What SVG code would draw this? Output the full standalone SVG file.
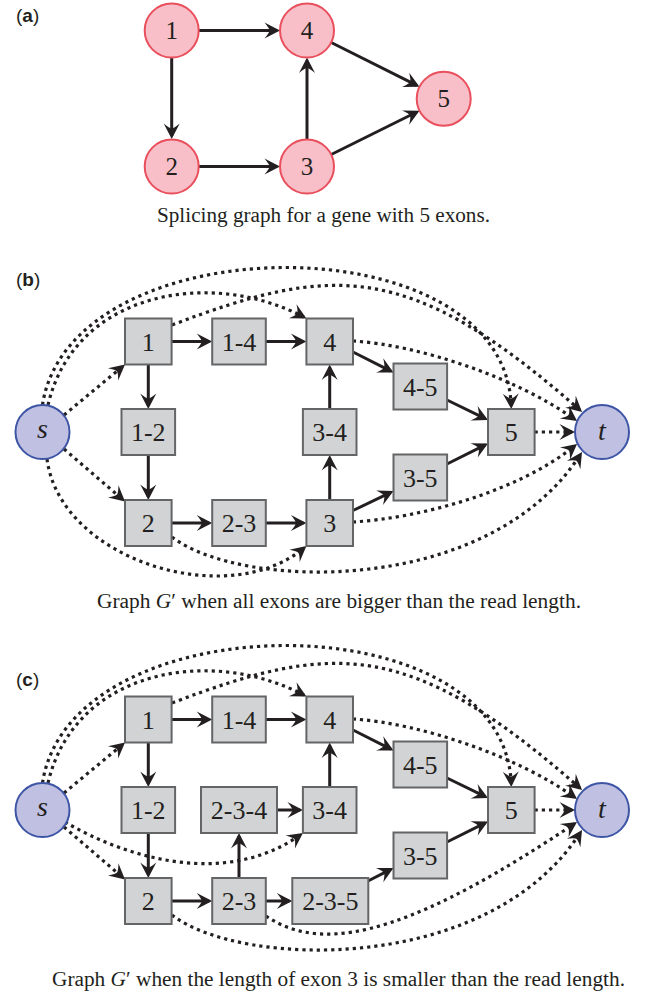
<svg xmlns="http://www.w3.org/2000/svg" width="647" height="994" viewBox="0 0 647 994">
<style>
.pc{fill:#f8bfc8;stroke:#e94f5d;stroke-width:2}
.box{fill:#d1d3d4;stroke:#646567;stroke-width:2}
.st{fill:#c0c1e2;stroke:#3e55a5;stroke-width:2}
.lbl{font-family:'Liberation Serif','DejaVu Serif',serif;font-size:26px;fill:#231f20;text-anchor:middle}
.al{font-family:'Liberation Serif','DejaVu Serif',serif;font-size:25px;fill:#231f20;text-anchor:middle}
.it{font-family:'Liberation Serif','DejaVu Serif',serif;font-size:28px;font-style:italic;fill:#231f20;text-anchor:middle}
.cap{font-family:'Liberation Serif','DejaVu Serif',serif;font-size:20px;fill:#231f20}
.pl{font-family:'Liberation Sans','DejaVu Sans',sans-serif;font-size:19px;fill:#231f20}
.e{fill:none;stroke:#231f20;stroke-width:3;marker-end:url(#ah)}
.d{fill:none;stroke:#231f20;stroke-width:3.2;stroke-dasharray:3.2 4;marker-end:url(#ah)}
</style>
<defs>
<marker id="ah" viewBox="-17 -10 19 20" refX="-3" refY="0" markerWidth="19" markerHeight="20" markerUnits="userSpaceOnUse" orient="auto">
<path d="M0,0 L-15.5,-8 Q-10.5,-2 -10.5,0 Q-10.5,2 -15.5,8 Z" fill="#231f20"/>
</marker>
</defs>

<!-- Panel labels and captions -->
<text class="pl" x="16" y="22">(<tspan font-weight="bold">a</tspan>)</text>
<text class="pl" x="16" y="286">(<tspan font-weight="bold">b</tspan>)</text>
<text class="pl" x="16" y="686">(<tspan font-weight="bold">c</tspan>)</text>
<text class="cap" x="157" y="222" textLength="333" lengthAdjust="spacingAndGlyphs">Splicing graph for a gene with 5 exons.</text>
<text class="cap" x="97" y="608" textLength="484" lengthAdjust="spacingAndGlyphs">Graph <tspan font-style="italic">G</tspan>′ when all exons are bigger than the read length.</text>
<text class="cap" x="52" y="986" textLength="573" lengthAdjust="spacingAndGlyphs">Graph <tspan font-style="italic">G</tspan>′ when the length of exon 3 is smaller than the read length.</text>

<g id="connectors">
<!-- panel a -->
<path class="e" d="M199,30.5 H277"/>
<path class="e" d="M171.7,57.5 V136"/>
<path class="e" d="M199,166.5 H277"/>
<path class="e" d="M307,139.5 V60.5"/>
<path class="e" d="M331.2,42.5 L416.8,85.4"/>
<path class="e" d="M331.2,154.5 L416.8,112"/>
<!-- panel b solid -->
<path class="e" d="M171.6,341.5 H209.2"/>
<path class="e" d="M265.8,341.5 H303.4"/>
<path class="e" d="M148.3,364.5 V406"/>
<path class="e" d="M148.3,455 V497"/>
<path class="e" d="M171.6,523 H209.2"/>
<path class="e" d="M265.8,523 H303.4"/>
<path class="e" d="M329.7,500 V458"/>
<path class="e" d="M329.7,409 V367.5"/>
<path class="e" d="M353,352 L390.8,371.1"/>
<path class="e" d="M447,400 L485.3,418.7"/>
<path class="e" d="M353,510.5 L390.8,492.3"/>
<path class="e" d="M447,464 L485.3,444.8"/>
<!-- panel b dotted -->
<path class="d" d="M64,415 L122.7,366.4"/>
<path class="d" d="M64,449 L122.7,499.5"/>
<path class="d" d="M47,459 C60,560 227.7,611.9 304.1,547.9"/>
<path class="d" d="M172,537 C240,590 488.4,597.5 580.4,454.5"/>
<path class="d" d="M353,522 C420,518 517.7,491.9 574.7,445.9"/>
<path class="d" d="M534.6,432 H572"/>
<path class="d" d="M353,341 C420,345 517.6,378.3 574.6,419.3"/>
<path class="d" d="M172,325 C332,264 409.8,260 579.8,410"/>
<path class="d" d="M48,405 C75,290 212.4,268.6 303.8,317.1"/>
<path class="d" d="M42.5,405 C70,223 504.9,220 511.2,406"/>
<!-- panel c solid -->
<path class="e" d="M171.6,719.5 H209.2"/>
<path class="e" d="M265.8,719.5 H303.4"/>
<path class="e" d="M148.3,742.5 V784"/>
<path class="e" d="M148.3,833 V875"/>
<path class="e" d="M171.6,901 H209.2"/>
<path class="e" d="M265.8,901 H289.3"/>
<path class="e" d="M239,878 V836"/>
<path class="e" d="M277,810 H299.9"/>
<path class="e" d="M329.7,787 V745.5"/>
<path class="e" d="M353,730 L390.8,749.1"/>
<path class="e" d="M447,778 L485.3,796.7"/>
<path class="e" d="M368,881 L390.8,869.4"/>
<path class="e" d="M447,842 L485.3,822.8"/>
<!-- panel c dotted -->
<path class="d" d="M64,793 L122.7,744.4"/>
<path class="d" d="M64,827 L122.7,877.5"/>
<path class="d" d="M65,822 C130,860 227.6,886.7 300.5,834.7"/>
<path class="d" d="M266,916 C330,960 427.5,921.7 574.5,823.7"/>
<path class="d" d="M172,915 C240,968 488.4,975.5 580.4,832.5"/>
<path class="d" d="M534.6,810 H572"/>
<path class="d" d="M353,719 C420,723 517.6,756.3 574.6,797.3"/>
<path class="d" d="M172,703 C332,642 409.8,638 579.8,788"/>
<path class="d" d="M48,783 C75,668 212.4,646.6 303.8,695.1"/>
<path class="d" d="M42.5,783 C70,601 504.9,598 511.2,784"/>
</g>

<!-- panel a nodes -->
<g id="a1"><circle class="pc" cx="171.7" cy="30.5" r="27"/><text class="al" x="171.7" y="39">1</text></g>
<g id="a2"><circle class="pc" cx="171.7" cy="166.5" r="27"/><text class="al" x="171.7" y="175">2</text></g>
<g id="a3"><circle class="pc" cx="307" cy="166.5" r="27"/><text class="al" x="307" y="175">3</text></g>
<g id="a4"><circle class="pc" cx="307" cy="30.5" r="27"/><text class="al" x="307" y="39">4</text></g>
<g id="a5"><circle class="pc" cx="443.7" cy="98.7" r="27"/><text class="al" x="443.7" y="107.2">5</text></g>

<!-- panel b nodes -->
<g id="b-s"><circle class="st" cx="42.5" cy="432" r="27"/><text class="it" x="42.5" y="438">s</text></g>
<g id="b-t"><circle class="st" cx="602" cy="432" r="27"/><text class="it" x="602" y="440">t</text></g>
<g id="b-1"><rect class="box" x="125" y="318.5" width="46.6" height="46"/><text class="lbl" x="148.3" y="350.5">1</text></g>
<g id="b-14"><rect class="box" x="212.2" y="318.5" width="53.6" height="46"/><text class="lbl" x="239" y="350.5">1-4</text></g>
<g id="b-4"><rect class="box" x="306.4" y="318.5" width="46.6" height="46"/><text class="lbl" x="329.7" y="350.5">4</text></g>
<g id="b-12"><rect class="box" x="121.5" y="409" width="53.6" height="46"/><text class="lbl" x="148.3" y="441">1-2</text></g>
<g id="b-34"><rect class="box" x="302.9" y="409" width="53.6" height="46"/><text class="lbl" x="329.7" y="441">3-4</text></g>
<g id="b-45"><rect class="box" x="393.5" y="363.5" width="53.6" height="46"/><text class="lbl" x="420.3" y="395.5">4-5</text></g>
<g id="b-5"><rect class="box" x="488" y="409" width="46.6" height="46"/><text class="lbl" x="511.3" y="441">5</text></g>
<g id="b-35"><rect class="box" x="393.5" y="454.5" width="53.6" height="46"/><text class="lbl" x="420.3" y="486.5">3-5</text></g>
<g id="b-2"><rect class="box" x="125" y="500" width="46.6" height="46"/><text class="lbl" x="148.3" y="532">2</text></g>
<g id="b-23"><rect class="box" x="212.2" y="500" width="53.6" height="46"/><text class="lbl" x="239" y="532">2-3</text></g>
<g id="b-3"><rect class="box" x="306.4" y="500" width="46.6" height="46"/><text class="lbl" x="329.7" y="532">3</text></g>

<!-- panel c nodes -->
<g id="c-s"><circle class="st" cx="42.5" cy="810" r="27"/><text class="it" x="42.5" y="816">s</text></g>
<g id="c-t"><circle class="st" cx="602" cy="810" r="27"/><text class="it" x="602" y="818">t</text></g>
<g id="c-1"><rect class="box" x="125" y="696.5" width="46.6" height="46"/><text class="lbl" x="148.3" y="728.5">1</text></g>
<g id="c-14"><rect class="box" x="212.2" y="696.5" width="53.6" height="46"/><text class="lbl" x="239" y="728.5">1-4</text></g>
<g id="c-4"><rect class="box" x="306.4" y="696.5" width="46.6" height="46"/><text class="lbl" x="329.7" y="728.5">4</text></g>
<g id="c-12"><rect class="box" x="121.5" y="787" width="53.6" height="46"/><text class="lbl" x="148.3" y="819">1-2</text></g>
<g id="c-234"><rect class="box" x="201" y="787" width="76" height="46"/><text class="lbl" x="239" y="819">2-3-4</text></g>
<g id="c-34"><rect class="box" x="302.9" y="787" width="53.6" height="46"/><text class="lbl" x="329.7" y="819">3-4</text></g>
<g id="c-45"><rect class="box" x="393.5" y="741.5" width="53.6" height="46"/><text class="lbl" x="420.3" y="773.5">4-5</text></g>
<g id="c-5"><rect class="box" x="488" y="787" width="46.6" height="46"/><text class="lbl" x="511.3" y="819">5</text></g>
<g id="c-35"><rect class="box" x="393.5" y="832.5" width="53.6" height="46"/><text class="lbl" x="420.3" y="864.5">3-5</text></g>
<g id="c-2"><rect class="box" x="125" y="878" width="46.6" height="46"/><text class="lbl" x="148.3" y="910">2</text></g>
<g id="c-23"><rect class="box" x="212.2" y="878" width="53.6" height="46"/><text class="lbl" x="239" y="910">2-3</text></g>
<g id="c-235"><rect class="box" x="292.3" y="878" width="76" height="46"/><text class="lbl" x="330.3" y="910">2-3-5</text></g>
</svg>
